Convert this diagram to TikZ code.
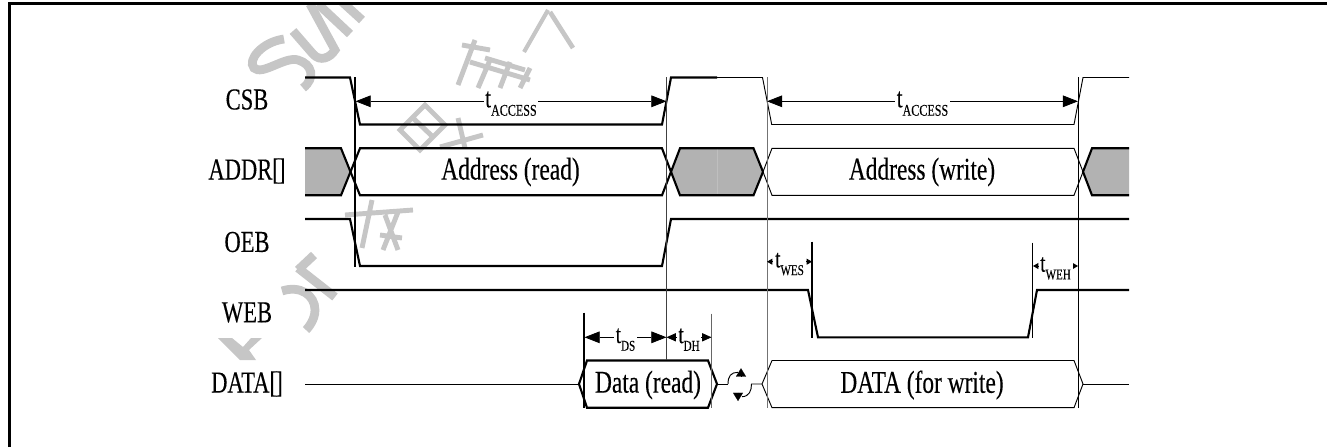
\documentclass[tikz,border=0pt]{standalone}
\usepackage{xcolor}
\usepackage{fontspec}
\setmainfont[FakeStretch=0.74,FakeBold=0.25]{Liberation Serif}
\usetikzlibrary{arrows.meta}
\definecolor{wmgray}{HTML}{C6C6C6}
\definecolor{busgray}{HTML}{B2B2B2}
\newcommand{\tsub}[1]{t\raisebox{-0.3em}{\fontsize{0.58em}{0.58em}\selectfont #1}}
\newcommand{\brk}{[\kern-1.5pt]}
\tikzset{sig/.style = {line width=1.8pt, line join=miter},
    thinsig/.style = {line width=0.8pt},
    bus/.style = {fill=busgray, draw=none},
    mark line/.style = {line width=0.8pt},
    wm/.style = {wmgray, line width=7.5pt},
    wmt/.style = {wmgray, line width=4.2pt},
    siglabel/.style = {font=\fontsize{26pt}{26pt}\selectfont, inner sep=0pt},
    wavetext/.style = {font=\fontsize{27pt}{27pt}\selectfont, inner sep=0pt},
    dimlabel/.style = {fill=white, inner sep=1.5pt, yshift=-2pt},
    bigdim/.style = {line width=0.7pt, {Triangle[length=13pt,width=10pt]}-{Triangle[length=13pt,width=10pt]}},
    middim/.style = {line width=0.7pt, {Triangle[length=8pt,width=7pt]}-{Triangle[length=8pt,width=7pt]}},
    tinydim/.style = {line width=0.7pt, {Triangle[length=4.5pt,width=5pt]}-{Triangle[length=4.5pt,width=5pt]}},
    turn/.style = {line width=0.1pt, -{Triangle[length=7pt,width=8.5pt]}}}
\begin{document}
\begin{tikzpicture}[x=0.03cm, y=-0.03cm]
    \useasboundingbox (0,0) rectangle (1327,447);
    % watermark
    \begin{scope}
        \clip (11,5) rectangle (1327,447);
        \draw[wm] (284,39) .. controls (262,42) and (247,60) .. (254,68)
            .. controls (262,76) and (285,56) .. (298,60)
            .. controls (312,64) and (316,78) .. (303,88);
        \draw[wm] (293,31) -- (313,54) .. controls (320,62) and (330,58) .. (335,50) -- (310,4);
        \draw[wm] (318,4) -- (350,34);
        \draw[wm] (340,0) -- (362,20);
        \draw[wm, line width=3.5pt] (548,10) -- (524,52);
        \draw[wm, line width=4pt] (550,12) -- (573,48);
        \draw[wmt] (462,45) -- (490,50) (475,40) -- (458,85) (485,58) -- (525,70)
            (490,60) -- (478,88) (510,62) -- (500,88) (530,68) -- (520,88)
            (470,62) -- (530,80);
        \draw[wmt] (400,130) -- (425,105) -- (445,125) -- (420,150) -- cycle
            (412,117) -- (433,137) (440,147) -- (483,135) (458,118) -- (465,148);
        \draw[wmt] (345,215) -- (413,210) (372,200) -- (362,248) (385,215) -- (398,250)
            (398,212) -- (383,250) (380,235) -- (402,238);
        \draw[wm] (298,268) -- (335,297) (298,270) -- (314,255);
        \draw[wm] (282,291) .. controls (300,285) and (315,295) .. (315,310)
            .. controls (315,320) and (308,328) .. (306,330);
        \fill[wmgray] (218,338) -- (232,338) -- (243,347) -- (251,338) -- (262,338)
            -- (249,350) -- (256,360) -- (240,360) -- cycle;
    \end{scope}
    % frame
    \draw[line width=2.6pt] (9.5,447) -- (9.5,3.5) -- (1327,3.5);
    % grey bus areas
    \fill[bus] (305,148.3) -- (341,148.3) -- (350.5,171.8) -- (341,195.3) -- (305,195.3) -- cycle;
    \fill[bus] (680,148.3) -- (753.5,148.3) -- (763,171.8) -- (753.5,195.3) -- (680,195.3) -- (670.7,171.8) -- cycle;
    \fill[bus] (1092,148.3) -- (1129,148.3) -- (1129,195.3) -- (1092,195.3) -- (1083,171.8) -- cycle;
    \draw[black!25, line width=0.4pt] (717,148.3) -- (717,195.3);
    % CSB
    \draw[sig] (305,77.5) -- (350,77.5) -- (360,124.5) -- (662,124.5) -- (671,77.5) -- (717,77.5);
    \draw[thinsig] (717,77.5) -- (753,77.5) -- (762.5,77.5) -- (771.7,124.5) -- (1074,124.5) -- (1083,77.5) -- (1129,77.5);
    % ADDR
    \draw[sig] (305,148.3) -- (341,148.3) -- (360,195.3) -- (662,195.3) -- (680,148.3) -- (753.5,148.3) -- (763,171.8);
    \draw[sig] (305,195.3) -- (341,195.3) -- (360,148.3) -- (662,148.3) -- (680,195.3) -- (753.5,195.3) -- (763,171.8);
    \draw[thinsig] (763,171.8) -- (772,148.3) -- (1074,148.3) -- (1083,171.8);
    \draw[thinsig] (763,171.8) -- (772,195.3) -- (1074,195.3) -- (1083,171.8);
    \draw[sig] (1129,148.3) -- (1092,148.3) -- (1083,171.8) -- (1092,195.3) -- (1129,195.3);
    % OEB
    \draw[sig] (305,219) -- (350,219) -- (360,266) -- (662,266) -- (671,219) -- (1129,219);
    % WEB
    \draw[sig] (305,290) -- (808,290) -- (818,337.3) -- (1028,337.3) -- (1037,290) -- (1129,290);
    % DATA
    \draw[thinsig] (305,384) -- (579,384);
    \draw[sig, fill=white] (579,384) -- (587,360.5) -- (708,360.5) -- (717,384) -- (708,407.7) -- (587,407.7) -- cycle;
    \draw[thinsig] (717,384) -- (728,384);
    \draw[thinsig] (762,384) -- (772,360.5) -- (1074,360.5) -- (1083,384) -- (1074,407.7) -- (772,407.7) -- cycle;
    \draw[thinsig] (1083,384) -- (1129,384);
    \coordinate (tura) at (728,384);
    \coordinate (turb) at (741,376);
    \coordinate (turc) at (741,368.3);
    \coordinate (turd) at (751.5,384);
    \coordinate (ture) at (738,392.5);
    \coordinate (turf) at (738,401);
    \draw[thinsig] (tura) .. controls (728,376) and (731,372.3) .. (738,372.3);
    \draw[turn] (turb) -- (turc);
    \draw[thinsig] (762,384) -- (turd) .. controls (751.5,391) and (749,396.5) .. (742,396.7);
    \draw[turn] (ture) -- (turf);
    % timing marks
    \draw[line width=1.4pt] (355,77) -- (355,267);
    \draw[mark line, black!75] (666.7,77) -- (666.7,360);
    \draw[mark line, black!55] (767,77) -- (767,408);
    \draw[mark line] (1078,77) -- (1078,408);
    \draw[line width=1.4pt] (812,241.5) -- (812,338);
    \draw[mark line] (1032.7,242.5) -- (1032.7,337.5);
    \draw[line width=1.3pt] (584,312.5) -- (584,408);
    \draw[mark line, black!60] (711.7,313.5) -- (711.7,408);
    % timing dimensions
    \coordinate (acca) at (355.5,101.3);
    \coordinate (accb) at (666.5,101.3);
    \coordinate (accc) at (767,101.3);
    \coordinate (accd) at (1078,101.3);
    \coordinate (dsa) at (584.5,337.3);
    \coordinate (dsb) at (666.5,337.3);
    \coordinate (dhb) at (711.5,337.3);
    \coordinate (wesa) at (767,261.7);
    \coordinate (wesb) at (812,261.7);
    \coordinate (weha) at (1033,266);
    \coordinate (wehb) at (1078,266);
    \draw[bigdim] (acca) -- node[dimlabel, font=\fontsize{24pt}{24pt}\selectfont] (taccr) {\tsub{ACCESS}} (accb);
    \draw[bigdim] (accc) -- node[dimlabel, font=\fontsize{24pt}{24pt}\selectfont] (taccw) {\tsub{ACCESS}} (accd);
    \draw[bigdim] (dsa) -- node[dimlabel, font=\fontsize{22pt}{22pt}\selectfont] (tds) {\tsub{DS}} (dsb);
    \draw[middim] (dsb) -- node[dimlabel, font=\fontsize{22pt}{22pt}\selectfont] (tdh) {\tsub{DH}} (dhb);
    \draw[tinydim] (wesa) -- node[dimlabel, font=\fontsize{22pt}{22pt}\selectfont] (twes) {\tsub{WES}} (wesb);
    \draw[tinydim] (weha) -- node[dimlabel, font=\fontsize{22pt}{22pt}\selectfont] (tweh) {\tsub{WEH}} (wehb);
    % signal names
    \node[siglabel] (csb) at (247,99.5) {CSB};
    \node[siglabel] (addr) at (247,171) {ADDR\brk};
    \node[siglabel] (oeb) at (247,242) {OEB};
    \node[siglabel] (web) at (247,312.5) {WEB};
    \node[siglabel] (data) at (247,384) {DATA\brk};
    % texts on the buses
    \node[wavetext] (addrread) at (510.5,172) {Address (read)};
    \node[wavetext] (addrwrite) at (922,172) {Address (write)};
    \node[wavetext] (dataread) at (648,385) {Data (read)};
    \node[wavetext] (datawrite) at (922,385) {DATA (for write)};
\end{tikzpicture}
\end{document}
